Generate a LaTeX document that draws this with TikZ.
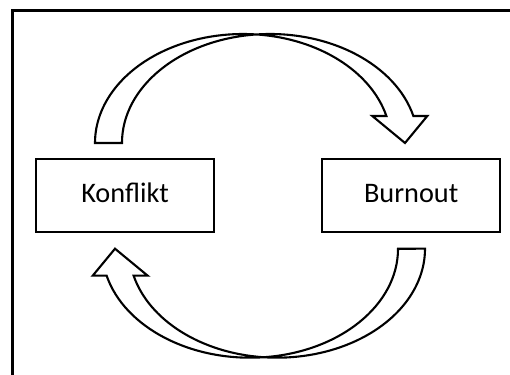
\documentclass[tikz,border=0pt]{standalone}
\usepackage{fontspec}
\setmainfont{Carlito}
\tikzset{
  stagebox/.style={draw, line width=2.3pt, minimum width=178pt, minimum height=73.5pt,
    inner sep=0pt, text height=20pt, text depth=5.4pt,
    font=\fontsize{28.3pt}{34pt}\selectfont},
  bentarrow/.style={draw, line width=2.1pt, line join=miter, fill=white},
  frameline/.style={line width=3pt}
}
\newcommand{\cyclearrow}{%
  \path[bentarrow]
    (95,231)
    arc[start angle=180, end angle=84.77, x radius=148pt, y radius=109pt]
    arc[start angle=95.23, end angle=14.34, x radius=148pt, y radius=109pt]
    -- (427.3,258) -- (405,231) -- (372.3,258)
    -- ({243+148*cos(14.34)},258)
    arc[start angle=14.34, end angle=84.77, x radius=148pt, y radius=109pt]
    arc[start angle=95.23, end angle=180, x radius=148pt, y radius=109pt]
    -- cycle;}
\begin{document}
\begin{tikzpicture}[x=1pt, y=1pt]
  \useasboundingbox (0,0) rectangle (510,374);
  \clip (0,0) rectangle (510,374);
  \draw[frameline] (12.2,-10) -- (12.2,363.2) -- (520,363.2);
  \node[stagebox] (konflikt) at (125,178.45) {Konflikt};
  \node[stagebox] (burnout) at (411.2,178.45) {Burnout};
  \cyclearrow
  \begin{scope}[rotate around={180:(260,178.15)}]
    \cyclearrow
  \end{scope}
\end{tikzpicture}
\end{document}
